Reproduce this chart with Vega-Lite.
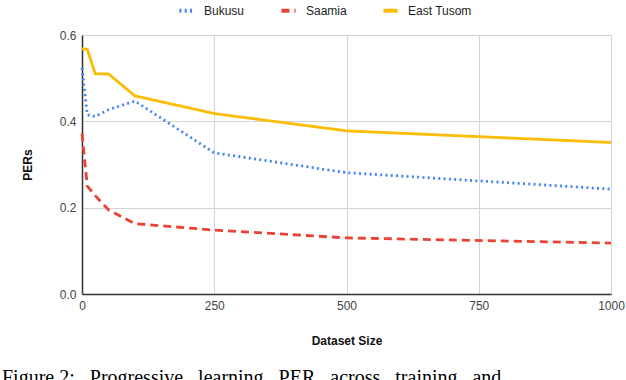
{
  "$schema": "https://vega.github.io/schema/vega-lite/v6.json",
  "width": 529,
  "height": 259,
  "autosize": {"type": "none"},
  "padding": {"left": 82, "top": 35, "right": 15, "bottom": 86},
  "background": "white",
  "config": {
    "font": "Liberation Sans",
    "view": {"stroke": null},
    "axis": {"labelFont": "Liberation Sans", "titleFont": "Liberation Sans", "labelColor": "#444", "labelFontSize": 12, "titleFontSize": 12, "titleFontWeight": "bold", "titleColor": "#111", "gridColor": "#d4d4d4", "gridWidth": 1, "ticks": false, "domainColor": "#333", "domainWidth": 1.5, "labelFlush": false}
  },
  "data": {
    "values": [
      {"series": "Bukusu", "size": 0, "per": 0.524},
      {"series": "Bukusu", "size": 10, "per": 0.415},
      {"series": "Bukusu", "size": 25, "per": 0.411},
      {"series": "Bukusu", "size": 50, "per": 0.427},
      {"series": "Bukusu", "size": 100, "per": 0.447},
      {"series": "Bukusu", "size": 250, "per": 0.327},
      {"series": "Bukusu", "size": 500, "per": 0.281},
      {"series": "Bukusu", "size": 1000, "per": 0.243},
      {"series": "Saamia", "size": 0, "per": 0.372},
      {"series": "Saamia", "size": 10, "per": 0.25},
      {"series": "Saamia", "size": 25, "per": 0.228},
      {"series": "Saamia", "size": 50, "per": 0.195},
      {"series": "Saamia", "size": 100, "per": 0.163},
      {"series": "Saamia", "size": 250, "per": 0.148},
      {"series": "Saamia", "size": 500, "per": 0.13},
      {"series": "Saamia", "size": 1000, "per": 0.118},
      {"series": "East Tusom", "size": 0, "per": 0.568},
      {"series": "East Tusom", "size": 10, "per": 0.567},
      {"series": "East Tusom", "size": 25, "per": 0.51},
      {"series": "East Tusom", "size": 50, "per": 0.51},
      {"series": "East Tusom", "size": 100, "per": 0.459},
      {"series": "East Tusom", "size": 250, "per": 0.418},
      {"series": "East Tusom", "size": 500, "per": 0.378},
      {"series": "East Tusom", "size": 1000, "per": 0.351}
    ]
  },
  "title": {
    "text": "Figure 2:\u00a0\u00a0\u00a0Progressive\u00a0\u00a0\u00a0learning\u00a0\u00a0\u00a0PER\u00a0\u00a0\u00a0across\u00a0\u00a0\u00a0training\u00a0\u00a0\u00a0and",
    "orient": "bottom",
    "anchor": "start",
    "frame": "group",
    "font": "Liberation Serif",
    "fontSize": 20,
    "fontWeight": "normal",
    "color": "#000",
    "offset": 22,
    "dx": -80
  },
  "mark": {"type": "line", "strokeWidth": 2.8, "clip": false},
  "encoding": {
    "x": {
      "field": "size", "type": "quantitative",
      "scale": {"domain": [0, 1000], "nice": false},
      "axis": {"title": "Dataset Size", "values": [0, 250, 500, 750, 1000], "format": "d", "labelPadding": 6, "titlePadding": 24}
    },
    "y": {
      "field": "per", "type": "quantitative",
      "scale": {"domain": [0, 0.6], "nice": false},
      "axis": {"title": "PERs", "values": [0, 0.2, 0.4, 0.6], "format": ".1f", "labelPadding": 6, "titlePadding": 25}
    },
    "color": {
      "field": "series", "type": "nominal",
      "scale": {"domain": ["Bukusu", "Saamia", "East Tusom"], "range": ["#4285F4", "#EA4335", "#FBBC04"]},
      "legend": {
        "title": null, "orient": "none", "direction": "horizontal",
        "legendX": 95, "legendY": -34,
        "symbolType": "stroke", "symbolStrokeWidth": 4, "symbolSize": 200,
        "labelFontSize": 12, "labelColor": "#222", "columnPadding": 28, "labelOffset": 8
      }
    },
    "strokeDash": {
      "field": "series", "type": "nominal",
      "scale": {"domain": ["Bukusu", "Saamia", "East Tusom"], "range": [[2, 3.3], [8, 5], [1, 0]]},
      "legend": null
    }
  }
}
